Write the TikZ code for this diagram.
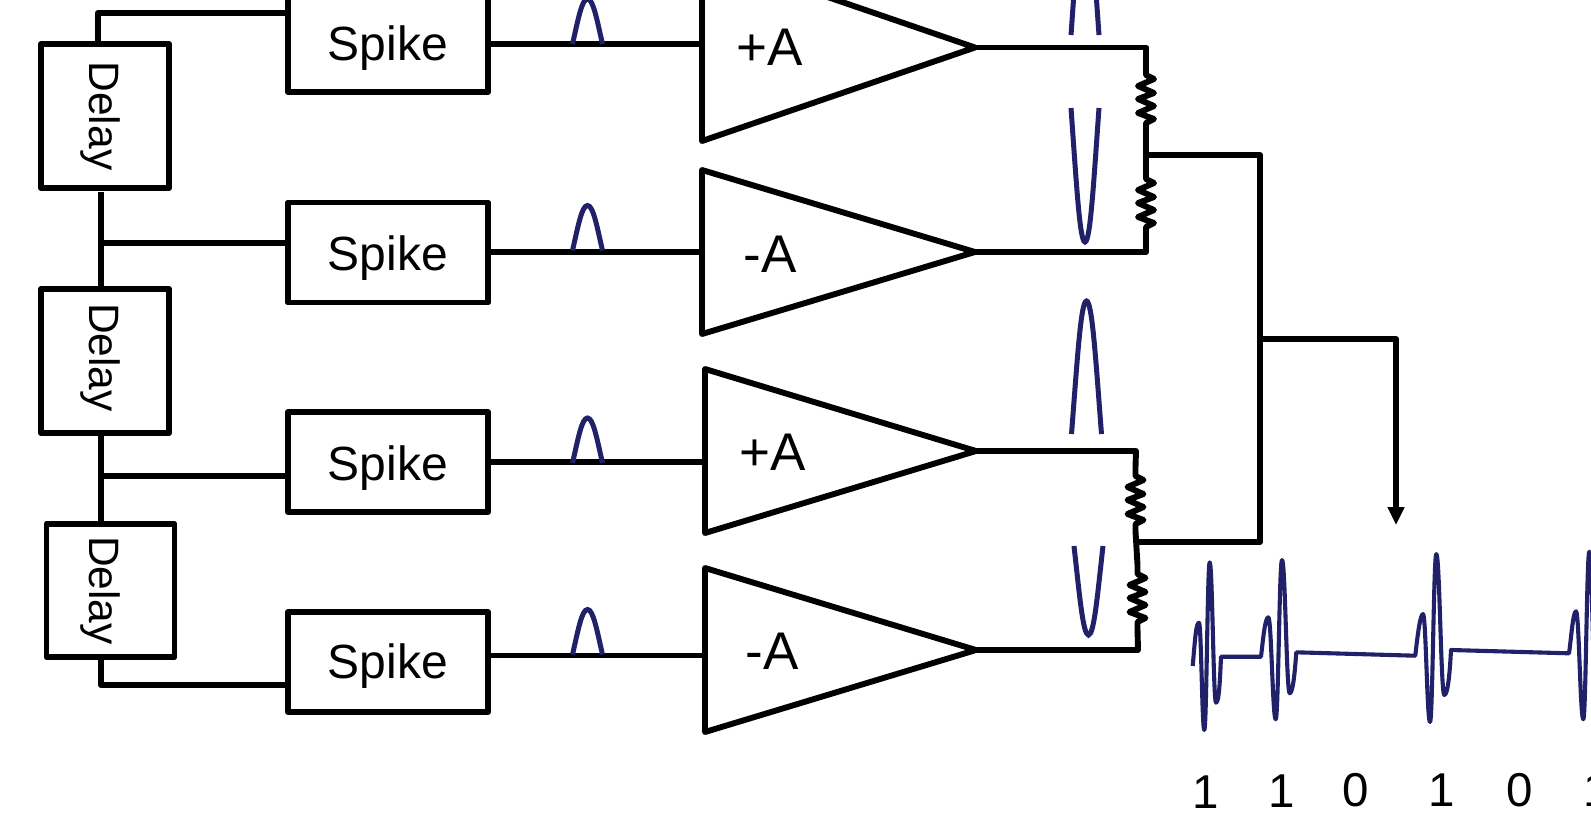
\documentclass[tikz,border=0pt]{standalone}
\usepackage{fontspec}
\setmainfont{Liberation Sans}
\usetikzlibrary{calc,arrows.meta}
\definecolor{pulseblue}{HTML}{212169}
\tikzset{
  wire/.style={draw=black,line width=5.9pt,line join=round},
  spikebox/.style={wire,rectangle,outer sep=0pt,inner sep=0pt,minimum width=200pt,minimum height=100pt,
    font=\fontsize{48}{48}\selectfont,text height=40pt,text depth=4pt},
  delaybox/.style={wire,rectangle,outer sep=0pt,inner sep=0pt,minimum width=128pt,minimum height=144pt,
    font=\fontsize{42.5}{42.5}\selectfont},
  amplabel/.style={inner sep=0pt,font=\fontsize{53}{53}\selectfont},
  bitlabel/.style={inner sep=0pt,anchor=base,font=\fontsize{47.5}{47.5}\selectfont},
  pulseline/.style={draw=pulseblue,line width=5pt},
  waveline/.style={draw=pulseblue,line width=4.1pt,line join=round},
  wv/.style={to path={.. controls ($(\tikztostart)!0.42!(\tikztotarget |- \tikztostart)$) and ($(\tikztotarget)!0.42!(\tikztostart |- \tikztotarget)$) .. (\tikztotarget)}},
}
\newcommand{\bump}[4]{\draw[pulseline,shift={(#1,#2)},xscale=#3,yscale=#4] (-1,0) .. controls (-0.62,-0.55) and (-0.38,-1) .. (0,-1) .. controls (0.38,-1) and (0.62,-0.55) .. (1,0);}
\newcommand{\zigzag}[1]{\draw[wire,shift={(#1)}] (0,0) -- (0,9) -- (8,13) -- (-8,20) -- (8,27) -- (-8,33) -- (8,40) -- (-8,47) -- (8,53) -- (0,57) -- (0,64);}
\begin{document}
\begin{tikzpicture}[x=1pt,y=-1pt]
\useasboundingbox[fill=white] (0,0) rectangle (1591,815);
% spike generators
\node[spikebox] (S1) at (388,42) {Spike};
\node[spikebox] (S2) at (388,252.5) {Spike};
\node[spikebox] (S3) at (388,462) {Spike};
\node[spikebox,text depth=8pt] (S4) at (388,662) {Spike};
% delays
\node[delaybox] (D1) at (105,116) {\hspace*{-10pt}\rotatebox{-90}{Delay}};
\node[delaybox,text depth=116pt,text height=0pt] (D2) at (105,361) {\hspace*{-10pt}\rotatebox{-90}{Delay}};
\node[delaybox,minimum height=133pt] (D3) at (110.5,590.5) {\hspace*{-21pt}\rotatebox{-90}{Delay}};
% amplifier corners
\coordinate (T1a) at (702,-46); \coordinate (T1b) at (702,141); \coordinate (T1t) at (975,47.5);
\coordinate (T2a) at (702,170); \coordinate (T2b) at (702,334); \coordinate (T2t) at (975,252);
\coordinate (T3a) at (705,369); \coordinate (T3b) at (705,533); \coordinate (T3t) at (976,451);
\coordinate (T4a) at (705,568); \coordinate (T4b) at (705,732); \coordinate (T4t) at (976,650);
\draw[wire] (T1a) -- (T1b) -- (T1t) -- cycle;
\draw[wire] (T2a) -- (T2b) -- (T2t) -- cycle;
\draw[wire] (T3a) -- (T3b) -- (T3t) -- cycle;
\draw[wire] (T4a) -- (T4b) -- (T4t) -- cycle;
\node[amplabel] (A1) at (770,47) {+A};
\node[amplabel] (A2) at (770,254) {-A};
\node[amplabel] (A3) at (773,452) {+A};
\node[amplabel] (A4) at (772,651) {-A};
% spike to amplifier
\coordinate (I1) at (702,44); \coordinate (I2) at (702,252); \coordinate (I3) at (705,462); \coordinate (I4) at (705,655.5);
\draw[wire] (S1.east |- I1) -- (I1);
\draw[wire] (S2.east |- I2) -- (I2);
\draw[wire] (S3.east |- I3) -- (I3);
\draw[wire] (S4.east |- I4) -- (I4);
% delay chain
\coordinate (j0) at (98,13);
\draw[wire] (j0 |- D1.north) -- (j0) -- (S1.west |- j0);
\coordinate (d1o) at (101,192); \coordinate (j1) at (101,243);
\draw[wire] (d1o) -- (j1 |- D2.north);
\draw[wire] (j1) -- (S2.west |- j1);
\coordinate (d2o) at (101,435); \coordinate (j2) at (101,476);
\draw[wire] (d2o) -- (j2 |- D3.north);
\draw[wire] (j2) -- (S3.west |- j2);
\coordinate (d3o) at (101,659); \coordinate (j3) at (101,685);
\draw[wire] (d3o) -- (j3) -- (S4.west |- j3);
% resistors, upper pair
\coordinate (c1) at (1146,47.5); \coordinate (R1a) at (1146,66); \coordinate (R1b) at (1146,130);
\coordinate (R2a) at (1146,170); \coordinate (R2b) at (1146,234); \coordinate (c2) at (1146,252);
\draw[wire] (T1t) -- (c1) -- (R1a);
\zigzag{R1a}
\draw[wire] (R1b) -- (R2a);
\zigzag{R2a}
\draw[wire] (R2b) -- (c2) -- (T2t);
% resistors, lower pair
\coordinate (c3) at (1136,451); \coordinate (R3a) at (1135.5,467); \coordinate (R3b) at (1135.5,531);
\coordinate (R4a) at (1137.5,565); \coordinate (R4b) at (1137.5,629); \coordinate (c4) at (1138,650);
\draw[wire] (T3t) -- (c3) -- (R3a);
\zigzag{R3a}
\draw[wire] (R3b) -- (R4a);
\zigzag{R4a}
\draw[wire] (R4b) -- (c4) -- (T4t);
% summing bus
\coordinate (m1) at (1146,155); \coordinate (m2) at (1136.5,542);
\coordinate (b1) at (1260,155); \coordinate (b2) at (1260,542);
\coordinate (o1) at (1260,339); \coordinate (o2) at (1396,339); \coordinate (o3) at (1396,525);
\draw[wire] (m1) -- (b1) -- (b2) -- (m2);
\draw[wire,-{Triangle[width=16pt,length=18pt]}] (o1) -- (o2) -- (o3);
% pulses after spike
\bump{587.5}{44}{15}{45}
\bump{587.5}{250.5}{15}{45}
\bump{587.5}{463}{15}{45}
\bump{587.5}{654.5}{15}{45}
% pulses after amplifier
\bump{1085}{35}{14}{134}
\bump{1085}{108}{14}{-134}
\bump{1086.5}{434}{15}{133}
\bump{1088.5}{546}{14.5}{-89}
% output waveform
\draw[waveline] (1192.7,666) .. controls (1195,640) and (1196,622.7) .. (1199,622.7)
  to[wv] (1204.3,730) to[wv] (1209.7,562.3) to[wv] (1216,702.7)
  .. controls (1219,702.7) and (1220,680) .. (1221,656.7) -- (1261,656.7)
  .. controls (1263,640) and (1265,617.3) .. (1268.3,617.3)
  to[wv] (1275.7,719.3) to[wv] (1282,560) to[wv] (1289.7,693.3)
  .. controls (1293,693.3) and (1295,670) .. (1296.3,652.3) -- (1415.3,655.7)
  .. controls (1417,640) and (1420,614) .. (1423,614)
  to[wv] (1430,722) to[wv] (1436.3,554) to[wv] (1444.3,695)
  .. controls (1448,695) and (1450,670) .. (1451,650) -- (1569,653.3)
  .. controls (1571,640) and (1573,611.3) .. (1576,611.3)
  to[wv] (1583.3,719.3) to[wv] (1589.3,551.7) to[wv] (1596,700);
% bits
\node[bitlabel] (B1) at (1206,808) {1};
\node[bitlabel] (B2) at (1282,807) {1};
\node[bitlabel] (B3) at (1356,806) {0};
\node[bitlabel] (B4) at (1442,806) {1};
\node[bitlabel] (B5) at (1520,806) {0};
\node[bitlabel] (B6) at (1597,806) {1};
\end{tikzpicture}
\end{document}
